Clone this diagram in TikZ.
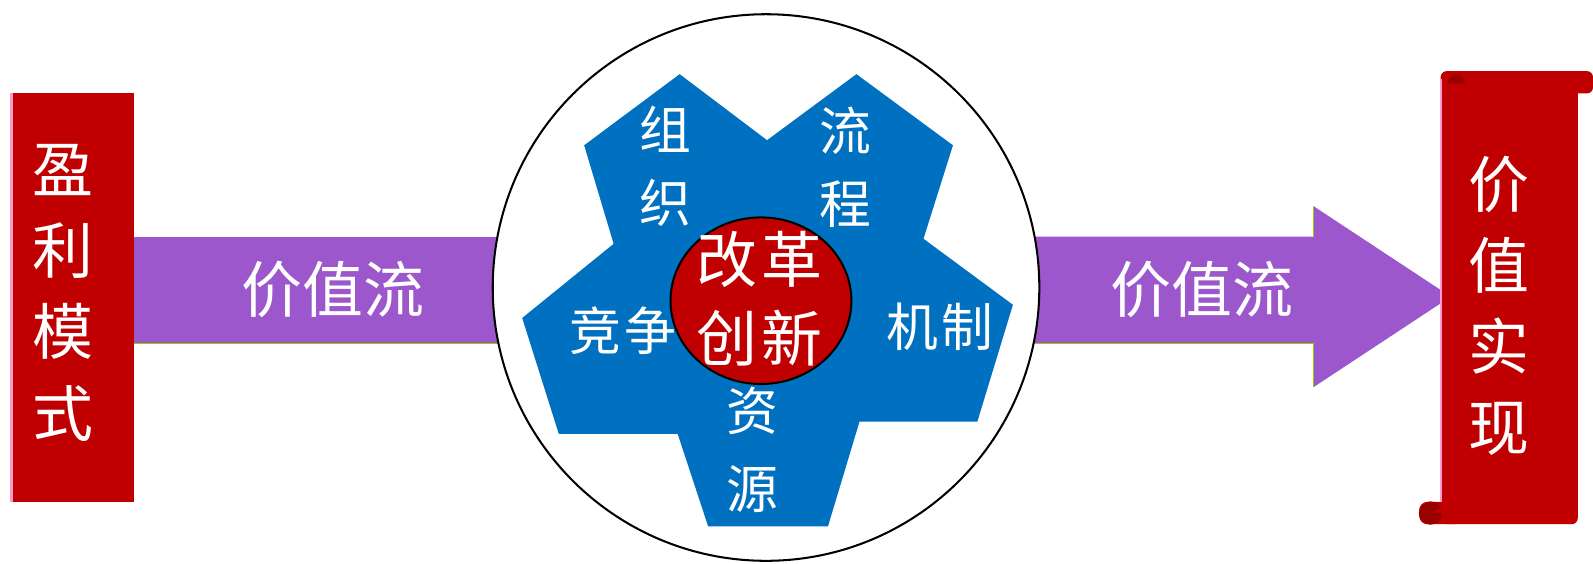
\documentclass[tikz,border=0pt]{standalone}
\usepackage{fontspec}
\setmainfont{Noto Sans CJK SC}
\usetikzlibrary{shapes.geometric}
\definecolor{boxred}{HTML}{C00000}
\definecolor{curlred}{HTML}{990000}
\definecolor{flowpurple}{HTML}{9B57CB}
\definecolor{starblue}{HTML}{0070C0}
\definecolor{edgepink}{HTML}{FF99CC}
\definecolor{edgegreen}{HTML}{99CC00}
\tikzset{
  bigtxt/.style={text=white, inner sep=0pt, align=center, font=\fontsize{60}{80}\selectfont},
  startxt/.style={text=white, inner sep=0pt, align=center, font=\fontsize{51}{72}\selectfont},
  redbox/.style={fill=boxred, inner sep=0pt},
}
\begin{document}
\begin{tikzpicture}[x=1pt, y=-1pt]
    \useasboundingbox (0,0) rectangle (1568,555);
    % left side
    \node[redbox, minimum width=122, minimum height=402] (model) at (71,293) {};
    \draw[edgepink, line width=3] ([xshift=1.5]model.north west) -- ([xshift=1.5]model.south west);
    \node[bigtxt] (modeltxt) at (62,288) {盈\\利\\模\\式};
    % value flow bands
    \coordinate (lb1) at (132,233);
    \coordinate (lb2) at (495,338);
    \fill[flowpurple] (lb1) rectangle (lb2);
    \draw[edgegreen] (lb1 |- lb2) -- (lb2);
    \coordinate (rb1) at (1015,233);
    \coordinate (rb2) at (1293,338);
    \coordinate (tip) at (1428,292);
    \fill[flowpurple] (rb1) -- (rb1 -| rb2) -- (1293,203) -- (tip) -- (1293,381) -- (rb2) -- (rb1 |- rb2) -- cycle;
    \draw[edgegreen] (rb1 |- rb2) -- (rb2) -- (1293,381);
    \draw[edgegreen] (rb1 -| rb2) -- (1293,203);
    \node[bigtxt] (flowl) at (328,285) {价值流};
    \node[bigtxt] (flowr) at (1183,285) {价值流};
    % ring and star
    \node[circle, draw, line width=2, fill=white, minimum size=538, inner sep=0pt] (ring) at (754,283) {};
    \fill[starblue] (669,73) -- (755,138) -- (843,73) -- (938,143) -- (909,235) -- (997,300)
        -- (962,415) -- (846,415) -- (815,518) -- (697,518) -- (667,427) -- (550,427)
        -- (514,313) -- (604,240) -- (575,143) -- cycle;
    \node[ellipse, draw, line width=2, fill=boxred, minimum width=178, minimum height=164, inner sep=0pt] (core) at (749,296) {};
    \node[bigtxt, font=\fontsize{60}{78}\selectfont] (coretxt) at (748,294) {改\hspace{4pt}革\\创\hspace{4pt}新};
    \node[startxt] (org) at (655,164) {组\\织};
    \node[startxt] (proc) at (832,165) {流\\程};
    \node[startxt] (comp) at (613,325) {竞\hspace{3pt}争};
    \node[startxt] (mech) at (925,322) {机\hspace{3pt}制};
    \node[startxt, font=\fontsize{51}{77}\selectfont] (res) at (741,443) {资\\源};
    % right scroll
    \fill[boxred, rounded corners=6] (1418,70) rectangle (1568,92);
    \fill[boxred, rounded corners=6] (1418,75) rectangle (1553,516);
    \fill[boxred, rounded corners=8] (1397,494) rectangle (1440,516);
    \draw[edgepink, line width=2] (1418,78) -- (1418,494);
    \fill[curlred] (1425,82) arc[start angle=180, end angle=360, radius=8.5] -- cycle;
    \fill[curlred] (1408,505) circle[radius=11.5];
    \fill[boxred] (1410,505) -- (1422,505) -- (1422,496) -- cycle;
    \node[bigtxt] (valtxt) at (1475,301) {价\\值\\实\\现};
\end{tikzpicture}
\end{document}
